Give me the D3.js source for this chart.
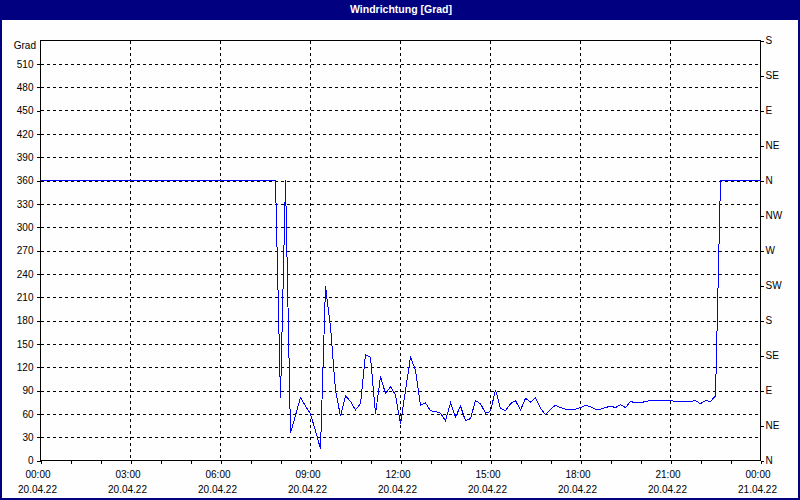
<!DOCTYPE html>
<html><head><meta charset="utf-8">
<script src="https://cdn.jsdelivr.net/npm/d3@7"></script>
<style>body{margin:0;background:#fff;} svg{display:block;}</style>
</head><body>
<svg id="c" width="800" height="500"></svg>
<script>
const chartTitle = "Windrichtung [Grad]";
const yAxisLabel = "Grad";
const startTime = "2022-04-20T00:00:00";
const endTime = "2022-04-21T00:00:00";
const stepMinutes = 10;
// wind direction [deg], one value every 10 minutes from 00:00 (20.04.22) to 00:00 (21.04.22)
const directions = [
  360,360,360,360,360,360, 360,360,360,360,360,360, 360,360,360,360,360,360, 360,360,360,360,360,360,
  360,360,360,360,360,360, 360,360,360,360,360,360, 360,360,360,360,360,360, 360,360,360,360,360,360,
  80,360,35,58,81,70,      60,38,15,224,172,90,
  57,83,76,65,73,136,      133,60,108,86,95,84,
  47,90,133,116,71,74,     64,63,61,51,74,56,
  70,51,54,77,73,61,       63,91,67,64,73,77,
  65,80,75,81,67,59,       66,71,68,66,65,66,
  68,71,69,66,66,68,       70,68,72,68,76,74,
  74,76,77,77,77,77,       77,76,76,76,76,77,
  73,77,76,83,360,360,     360,360,360,360,360,360,
  360
];
const yTicks = [0,30,60,90,120,150,180,210,240,270,300,330,360,390,420,450,480,510];
const compassTicks = [0,45,90,135,180,225,270,315,360,405,450,495,540];
const compassLabels = ["N","NE","E","SE","S","SW","W","NW","N","NE","E","SE","S"];
const majorHours = [0,3,6,9,12,15,18,21,24];

const font = "Liberation Sans, Arial, sans-serif";
const W = 800, H = 500;
const L = 40.5, R = 760.5, T = 40.5, B = 460.5;
const svg = d3.select("#c");
const t0 = new Date(startTime), t1 = new Date(endTime);
const data = directions.map((v,i)=>({t:new Date(t0.getTime()+i*stepMinutes*60000), v}));

const x = d3.scaleTime().domain([t0,t1]).range([L,R]);
const y = d3.scaleLinear().domain([0,540]).range([B,T]);

svg.append("rect").attr("x",0).attr("y",0).attr("width",W).attr("height",H).attr("fill","#fdfefd");
svg.append("rect").attr("x",0).attr("y",0).attr("width",W).attr("height",20).attr("fill","#000080");
svg.append("rect").attr("x",1).attr("y",1).attr("width",W-2).attr("height",H-2)
  .attr("fill","none").attr("stroke","#000080").attr("stroke-width",2);
svg.append("text").attr("x",401).attr("y",13).attr("text-anchor","middle")
  .attr("fill","#fff").attr("font-family",font).attr("font-weight","bold").attr("font-size",10.5)
  .text(chartTitle);

const g = svg.append("g").attr("shape-rendering","crispEdges");
// grid
const hourTicks = majorHours.map(h=>new Date(t0.getTime()+h*3600000));
g.selectAll(".hg").data(yTicks.filter(v=>v>0)).join("line")
  .attr("x1",L).attr("x2",R).attr("y1",d=>Math.round(y(d))+0.5).attr("y2",d=>Math.round(y(d))+0.5)
  .attr("stroke","#000").attr("stroke-dasharray","3,3");
g.selectAll(".vg").data(hourTicks.slice(1,-1)).join("line")
  .attr("y1",T).attr("y2",B).attr("x1",d=>x(d)).attr("x2",d=>x(d))
  .attr("stroke","#000").attr("stroke-dasharray","3,3");

// axes
const tickFont = (sel)=>sel.selectAll("text").attr("font-family",font).attr("font-size",10).attr("fill","#000");
const left = svg.append("g").attr("transform","translate(0,0)")
  .call(d3.axisLeft(y).tickValues(yTicks).tickSize(4).tickPadding(3))
  .attr("transform",`translate(${L},0)`);
left.attr("font-family",font).attr("font-size",10).call(tickFont);
left.select(".domain").remove();
left.selectAll("line").attr("shape-rendering","crispEdges");

const right = svg.append("g").attr("transform",`translate(${R},0)`)
  .call(d3.axisRight(y).tickValues(compassTicks).tickSize(3).tickPadding(2)
    .tickFormat((d,i)=>compassLabels[i]));
right.call(tickFont); right.select(".domain").remove();
right.selectAll("line").attr("shape-rendering","crispEdges");

const hours = d3.range(0,25).map(h=>new Date(t0.getTime()+h*3600000));
const bottom = svg.append("g").attr("transform",`translate(0,${B})`)
  .call(d3.axisBottom(x).tickValues(hours).tickSize(3).tickFormat(""));
bottom.select(".domain").remove();
bottom.selectAll("line").attr("shape-rendering","crispEdges");

const fmtT = d3.timeFormat("%H:%M"), fmtD = d3.timeFormat("%d.%m.%y");
const lab = svg.append("g").attr("font-family",font).attr("font-size",10).attr("text-anchor","middle");
lab.selectAll(".lt").data(hourTicks).join("text").attr("x",d=>x(d)-2.5).attr("y",478).text(fmtT);
lab.selectAll(".ld").data(hourTicks).join("text").attr("x",d=>x(d)-3).attr("y",493).text(fmtD);

svg.append("text").attr("x",36).attr("y",49).attr("text-anchor","end")
  .attr("font-family",font).attr("font-size",10).text(yAxisLabel);

// frame
svg.append("rect").attr("x",L).attr("y",T).attr("width",R-L).attr("height",B-T)
  .attr("fill","none").attr("stroke","#000").attr("shape-rendering","crispEdges");

// data line
const line = d3.line().x(d=>x(d.t)).y(d=>y(d.v));
svg.append("path").datum(data).attr("d",line).attr("fill","none")
  .attr("stroke","#0000ff").attr("stroke-width",1).attr("shape-rendering","crispEdges");
</script>
</body></html>
